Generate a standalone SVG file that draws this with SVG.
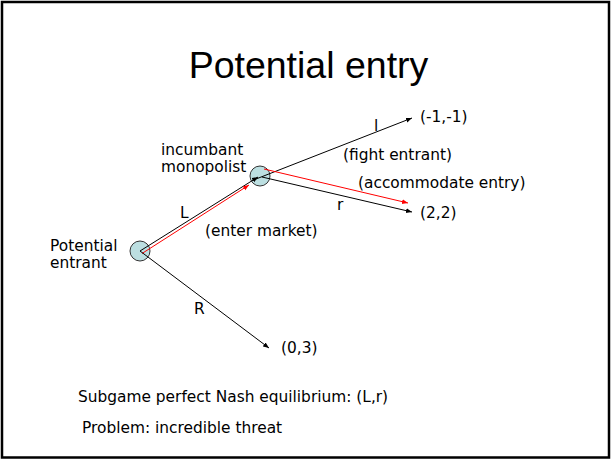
<svg xmlns="http://www.w3.org/2000/svg" width="611" height="459" viewBox="0 0 611 459">
<defs>
<marker id="ab" viewBox="0 0 10 10" refX="10" refY="5" markerWidth="6" markerHeight="6" orient="auto" markerUnits="userSpaceOnUse"><path d="M0,1 L10,5 L0,9 Z" fill="#000"/></marker>
<marker id="ar" viewBox="0 0 10 10" refX="10" refY="5" markerWidth="6" markerHeight="6" orient="auto" markerUnits="userSpaceOnUse"><path d="M0,1 L10,5 L0,9 Z" fill="#f00"/></marker>
</defs>
<style>
.t{font-family:"DejaVu Sans","Verdana",sans-serif;font-size:15.4px;fill:#000}
.title{font-family:"Liberation Sans",Arial,sans-serif;font-size:37.5px;fill:#000}
.node{fill:#bcdfe1;stroke:#333;stroke-width:1}
.b{stroke:#000;stroke-width:1;fill:none;marker-end:url(#ab)}
.r{stroke:#f00;stroke-width:1;fill:none;marker-end:url(#ar)}
</style>
<rect x="2" y="2" width="607" height="455.5" fill="#fff" stroke="#000" stroke-width="2.5"/>
<text class="title" x="308.5" y="78" text-anchor="middle">Potential entry</text>
<g id="entrant">
<circle class="node" cx="140" cy="251" r="10"/>
<text class="t" x="50" y="251">Potential</text>
<text class="t" x="50" y="268">entrant</text>
</g>
<g id="monopolist">
<circle class="node" cx="260" cy="176" r="10"/>
<text class="t" x="161" y="155">incumbant</text>
<text class="t" x="161" y="172">monopolist</text>
</g>
<g id="payoff-ff"><text class="t" x="420" y="122">(-1,-1)</text></g>
<g id="payoff-22"><text class="t" x="420" y="218">(2,2)</text></g>
<g id="payoff-03"><text class="t" x="281" y="353">(0,3)</text></g>
<g id="connectors">
<line class="b" x1="140" y1="251" x2="258" y2="177"/>
<line class="r" x1="142" y1="253.5" x2="249" y2="185"/>
<line class="b" x1="140" y1="251" x2="269" y2="348"/>
<line class="b" x1="256" y1="179" x2="412" y2="118"/>
<line class="b" x1="262" y1="177" x2="412" y2="212"/>
<line class="r" x1="264" y1="169" x2="408" y2="203"/>
<text class="t" x="180" y="218">L</text>
<text class="t" x="205" y="236">(enter market)</text>
<text class="t" x="194" y="314">R</text>
<text class="t" x="374" y="131">l</text>
<text class="t" x="343" y="160">(fight entrant)</text>
<text class="t" x="358" y="188">(accommodate entry)</text>
<text class="t" x="337" y="210">r</text>
</g>
<text class="t" x="78" y="402">Subgame perfect Nash equilibrium: (L,r)</text>
<text class="t" x="82" y="433">Problem: incredible threat</text>
</svg>
